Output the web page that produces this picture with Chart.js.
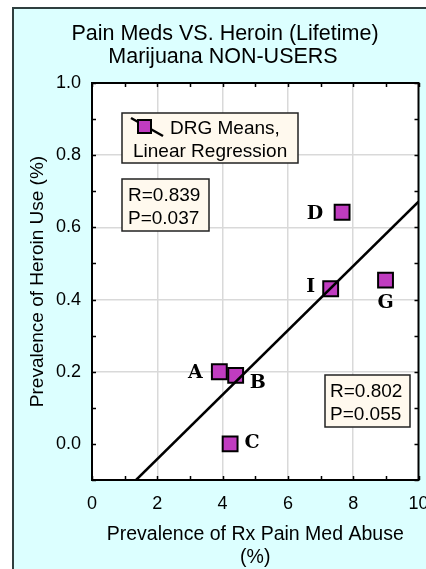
<!DOCTYPE html>
<html>
<head>
<meta charset="utf-8">
<script src="https://cdn.jsdelivr.net/npm/chart.js@4"></script>
<style>
  html, body { margin: 0; padding: 0; background: #ffffff; overflow: hidden; }
  #wrap { width: 426px; height: 569px; overflow: hidden; }
</style>
</head>
<body>
<div id="wrap"><canvas id="chart" width="431" height="569"></canvas></div>
<script>
// DRG means (x = Rx pain med abuse %, y = heroin use %)
const groupLabels = ['A', 'B', 'C', 'D', 'I', 'G'];
const painMedValues = [3.9, 4.4, 4.23, 7.66, 7.31, 8.99];
const heroinValues = [0.2, 0.19, 0.0, 0.642, 0.43, 0.454];

// regression line end points
const fitX = [1.35, 10];
const fitY = [-0.1, 0.671];

const xTickLabels = ['0', '2', '4', '6', '8', '10'];
const yTickLabels = ['0.0', '0.2', '0.4', '0.6', '0.8', '1.0'];

const titleLines = ['Pain Meds VS. Heroin (Lifetime)', 'Marijuana NON-USERS'];
const xTitleLines = ['Prevalence of Rx Pain Med Abuse', '(%)'];
const yTitle = 'Prevalence of Heroin Use (%)';
const legendLines = ['DRG Means,', 'Linear Regression'];
const statsUpper = ['R=0.839', 'P=0.037'];
const statsLower = ['R=0.802', 'P=0.055'];

// label offsets from each marker (pixels)
const labelOffsets = [[-24, 1], [22, 8], [22, -1], [-27, 2], [-20, -2], [0, 23]];

const FONT = '"Liberation Sans", Arial, sans-serif';
const MARKER = '#c03cc0';
const PANEL = '#dcffff';

function isMajor(v, step) {
    const k = Math.round(v / step);
    return k % 2 === 0 && v > -1e-9;
}

const framePlugin = {
    id: 'frame',
    beforeDraw(chart) {
        const { ctx, chartArea: a, width, height } = chart;
        ctx.save();
        ctx.fillStyle = '#ffffff';
        ctx.fillRect(0, 0, width, height);
        ctx.fillStyle = PANEL;
        ctx.fillRect(12, 7, width - 12, height - 7);
        ctx.strokeStyle = '#2f3f3f';
        ctx.lineWidth = 2;
        ctx.beginPath();
        ctx.moveTo(13, height);
        ctx.lineTo(13, 8);
        ctx.lineTo(width, 8);
        ctx.stroke();
        ctx.fillStyle = '#ffffff';
        ctx.fillRect(a.left, a.top, a.right - a.left, a.bottom - a.top);

        // title
        ctx.fillStyle = '#000';
        ctx.font = '21.5px ' + FONT;
        ctx.textAlign = 'center';
        ctx.textBaseline = 'middle';
        ctx.fillText(titleLines[0], 225, 34);
        ctx.fillText(titleLines[1], 223, 57);
        ctx.restore();
    },
    afterDraw(chart) {
        const { ctx, chartArea: a, scales } = chart;
        ctx.save();
        ctx.strokeStyle = '#000';
        ctx.lineWidth = 1.5;
        ctx.beginPath();
        scales.x.ticks.forEach(t => {
            const px = Math.round(scales.x.getPixelForValue(t.value)) + 0.5;
            ctx.moveTo(px, a.bottom); ctx.lineTo(px, a.bottom - 4);
            ctx.moveTo(px, a.top); ctx.lineTo(px, a.top + 4);
        });
        scales.y.ticks.forEach(t => {
            const py = Math.round(scales.y.getPixelForValue(t.value)) + 0.5;
            ctx.moveTo(a.left, py); ctx.lineTo(a.left + 4, py);
            ctx.moveTo(a.right, py); ctx.lineTo(a.right - 4, py);
        });
        ctx.stroke();
        ctx.lineWidth = 2;
        ctx.strokeRect(a.left, a.top, a.right - a.left, a.bottom - a.top);

        // group letters next to markers
        const meta = chart.getDatasetMeta(1);
        ctx.fillStyle = '#000';
        ctx.font = 'bold 19px "DejaVu Serif", "Liberation Serif", serif';
        ctx.textAlign = 'center';
        ctx.textBaseline = 'middle';
        meta.data.forEach((pt, i) => {
            ctx.fillText(groupLabels[i], pt.x + labelOffsets[i][0], pt.y + labelOffsets[i][1]);
        });

        // text boxes
        function box(x, y, w, h) {
            ctx.fillStyle = '#fff9ee';
            ctx.fillRect(x, y, w, h);
            ctx.strokeStyle = '#222';
            ctx.lineWidth = 1.5;
            ctx.strokeRect(x, y, w, h);
        }
        ctx.font = '19px ' + FONT;
        ctx.textAlign = 'left';
        ctx.textBaseline = 'alphabetic';

        box(122, 113, 176, 50);
        ctx.fillStyle = '#000';
        ctx.fillText(legendLines[0], 170, 134);
        ctx.fillText(legendLines[1], 133, 157);
        // legend symbol: line behind the square
        ctx.strokeStyle = '#000';
        ctx.lineWidth = 2.5;
        ctx.beginPath();
        ctx.moveTo(131, 118);
        ctx.lineTo(163, 136);
        ctx.stroke();
        ctx.fillStyle = MARKER;
        ctx.fillRect(138, 120, 13, 13);
        ctx.lineWidth = 2;
        ctx.strokeRect(138, 120, 13, 13);

        box(122, 179, 87, 52);
        ctx.fillStyle = '#000';
        ctx.fillText(statsUpper[0], 128, 201);
        ctx.fillText(statsUpper[1], 128, 224);

        box(325, 375, 85, 52);
        ctx.fillStyle = '#000';
        ctx.fillText(statsLower[0], 330, 397);
        ctx.fillText(statsLower[1], 330, 420);
        ctx.restore();
    }
};

new Chart(document.getElementById('chart'), {
    type: 'scatter',
    data: {
        datasets: [
            {
                type: 'line',
                label: 'Linear Regression',
                data: fitX.map((x, i) => ({ x, y: fitY[i] })),
                borderColor: '#000',
                borderWidth: 2.5,
                pointRadius: 0,
                fill: false,
                order: 1
            },
            {
                label: 'DRG Means',
                data: painMedValues.map((x, i) => ({ x, y: heroinValues[i] })),
                pointStyle: 'rect',
                pointRadius: 10.5,
                pointBackgroundColor: MARKER,
                pointBorderColor: '#000',
                pointBorderWidth: 2,
                order: 2
            }
        ]
    },
    options: {
        responsive: false,
        animation: false,
        events: [],
        layout: { padding: { left: 12, right: 3, top: 83, bottom: 0 } },
        plugins: {
            legend: { display: false },
            tooltip: { enabled: false },
            title: { display: false }
        },
        scales: {
            x: {
                type: 'linear',
                min: 0,
                max: 10,
                afterFit(scale) {
                    scale.height = 89;
                    scale.paddingLeft = 0;
                    scale.paddingRight = 0;
                },
                ticks: {
                    stepSize: 1,
                    autoSkip: false,
                    maxRotation: 0,
                    padding: 13,
                    color: '#000',
                    font: { family: FONT, size: 18 },
                    callback: v => isMajor(v, 1) ? xTickLabels[Math.round(v / 2)] : ''
                },
                grid: {
                    drawTicks: false,
                    color: c => (c.tick && isMajor(c.tick.value, 1) && c.tick.value > 0 && c.tick.value < 10) ? '#d9d9d9' : 'rgba(0,0,0,0)',
                    lineWidth: 1.5
                },
                border: { display: false },
                title: {
                    display: true,
                    text: xTitleLines,
                    color: '#000',
                    font: { family: FONT, size: 19.5, lineHeight: '23px' },
                    padding: { top: 0, bottom: 0 }
                }
            },
            y: {
                type: 'linear',
                min: -0.1,
                max: 1.0,
                afterFit(scale) {
                    scale.width = 80;
                    scale.paddingTop = 0;
                    scale.paddingBottom = 0;
                },
                ticks: {
                    stepSize: 0.1,
                    autoSkip: false,
                    padding: 11,
                    color: '#000',
                    font: { family: FONT, size: 18 },
                    callback: v => isMajor(v, 0.1) ? yTickLabels[Math.round(v / 0.2)] : ''
                },
                grid: {
                    drawTicks: false,
                    color: c => (c.tick && isMajor(c.tick.value, 0.1) && c.tick.value > 0.05 && c.tick.value < 0.95) ? '#d9d9d9' : 'rgba(0,0,0,0)',
                    lineWidth: 1.5
                },
                border: { display: false },
                title: {
                    display: true,
                    text: yTitle,
                    color: '#000',
                    font: { family: FONT, size: 19, lineHeight: '23px' },
                    padding: { top: 14, bottom: 0 }
                }
            }
        }
    },
    plugins: [framePlugin]
});
</script>
</body>
</html>
